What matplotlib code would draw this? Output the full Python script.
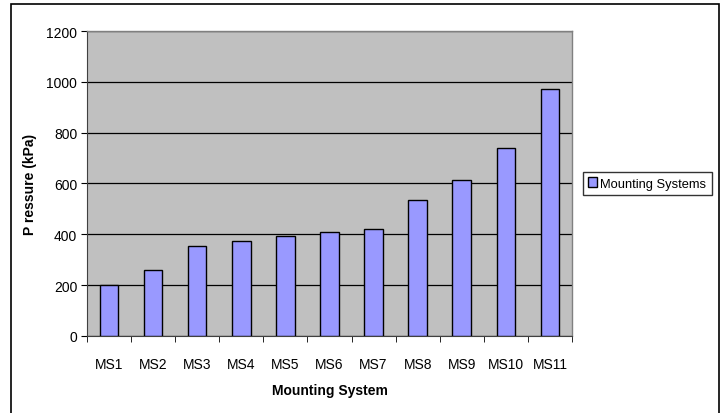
import numpy as np
import matplotlib.pyplot as plt
from matplotlib.patches import Rectangle, Patch

systems = ["MS1", "MS2", "MS3", "MS4", "MS5", "MS6", "MS7", "MS8", "MS9", "MS10", "MS11"]
pressure = [200, 258, 355, 375, 395, 410, 420, 534, 613, 741, 970]
y_ticks = [0, 200, 400, 600, 800, 1000, 1200]

plt.rcParams['font.family'] = ['Liberation Sans', 'DejaVu Sans']

fig = plt.figure(figsize=(7.26, 4.14), dpi=100)
ax = fig.add_axes([0.1198, 0.186, 0.668, 0.7367])

# outer chart frame (open at the bottom edge of the image)
fig.patches.append(Rectangle((11 / 726, -0.05), 708 / 726, 1.05 - 5 / 414,
                             transform=fig.transFigure, fill=False,
                             edgecolor="black", linewidth=1.2))

x = np.arange(len(systems))
ax.set_facecolor("#c0c0c0")
ax.bar(x, pressure, width=0.42, color="#9999ff", edgecolor="black",
       linewidth=1.0, zorder=3, label="Mounting Systems")

ax.set_xlim(-0.5, len(systems) - 0.5)
ax.set_ylim(0, 1200)
ax.set_yticks(y_ticks)
ax.yaxis.grid(True, color="black", linewidth=0.9, zorder=1)

ax.set_xticks(x)
ax.set_xticklabels(systems, fontsize=10)
ax.set_xticks(np.arange(-0.5, len(systems)), minor=True)
ax.tick_params(axis="x", which="major", length=0, pad=15)
ax.tick_params(axis="x", which="minor", length=4, color="black", direction="out")
ax.tick_params(axis="y", length=4, labelsize=10, direction="out", pad=3)

for side in ["top", "right"]:
    ax.spines[side].set_color("#808080")
    ax.spines[side].set_linewidth(1.0)
ax.spines["left"].set_color("#404040")
ax.spines["bottom"].set_color("#404040")

ax.set_xlabel("Mounting System", fontsize=10, fontweight="bold", labelpad=9)
ax.set_ylabel("P ressure (kPa)", fontsize=10, fontweight="bold", labelpad=7)

handle = Patch(facecolor="#9999ff", edgecolor="black", linewidth=1.0)
leg = fig.legend([handle], ["Mounting Systems"], loc="center left",
                 bbox_to_anchor=(583 / 726, 1 - 184.5 / 414), fontsize=9.3,
                 frameon=True, fancybox=False, edgecolor="black",
                 handlelength=0.7, handleheight=0.7, handletextpad=0.25,
                 borderpad=0.4, borderaxespad=0)
leg.get_frame().set_linewidth(1.0)

fig.savefig("out.png", dpi=100)
